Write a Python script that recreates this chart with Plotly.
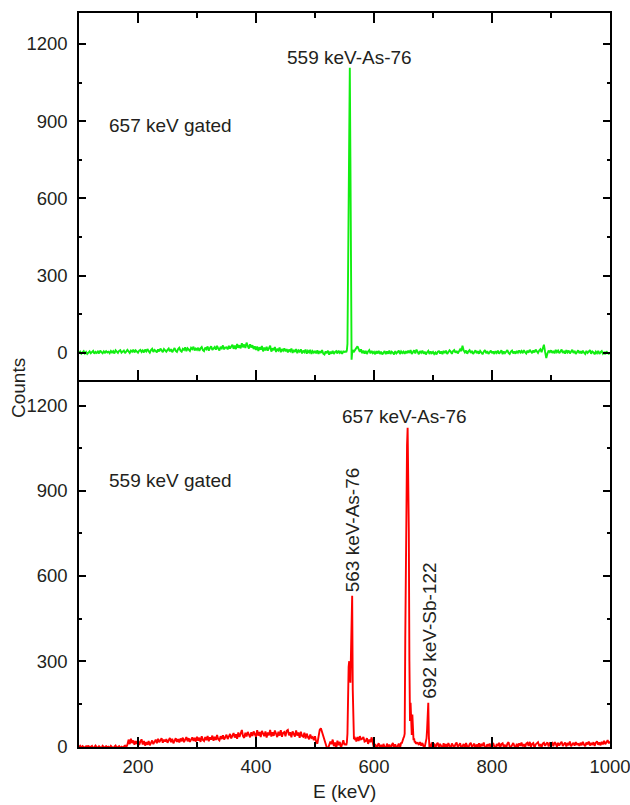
import plotly.graph_objects as go
from plotly.subplots import make_subplots

# Energy grid of the continuum (2 keV bins)
energy_grid = list(range(100, 1001, 2))

# 657 keV gated spectrum: continuum counts, 100 ... 1000 keV
gate657_continuum = [
    0, 5, -3, 3, 7, -2, 4, -4, 2, 6, -1, 3, 8, -3, 4, 0, 6, -2, 9, 3, -1, 6, 1, 7, 2,
    5, -1, 8, 2, 7, -2, 10, 3, 0, 8, 11, 1, 6, 9, -1, 4, 12, 6, 0, 9, 5, 13, 2, 10, 6,
    1, 9, 12, 4, 10, 2, 13, 6, 15, 7, 1, 11, 16, 4, 12, 8, 2, 14, 6, 17, 9, 3, 15, 10, 5,
    12, 17, 6, 15, 3, 13, 19, 8, 4, 15, 20, 9, 5, 16, 12, 22, 7, 18, 13, 8, 20, 15, 24, 10, 17,
    12, 20, 8, 18, 23, 11, 7, 21, 15, 25, 9, 19, 26, 12, 16, 23, 13, 28, 17, 10, 24, 18, 29, 14, 21,
    22, 14, 28, 17, 24, 32, 16, 29, 15, 35, 20, 30, 18, 38, 22, 33, 19, 40, 27, 17, 34, 21, 30, 15, 26,
    12, 25, 8, 22, 13, 27, 6, 21, 10, 24, 9, 19, 28, 5, 18, 11, 23, 4, 16, 10, 21, 3, 15, 9, 18,
    6, 15, 2, 13, 7, 17, 0, 12, 4, 15, -1, 10, 5, 14, -2, 9, 3, 13, -3, 8, 2, 12, -4, 7, 1,
    8, -2, 10, -4, 7, 0, 11, -3, -6, 6, -1, 9, -7, 5, -3, 8, -4, 4, 7, -2, 9, 0, 5, -3, 6,
    4, 5, 6, 6, 5, 4, 5, 6, 8, 12, 18, 26, 15, 4, 14, -1, 9, -3, 8, -4, 6, 11, -2, 8, -1,
    4, -5, 7, -2, 8, -4, 5, -6, 3, 7, -5, 6, -3, 9, -4, 5, 1, -6, 7, -2, 3, 9, -4, 6, 0,
    5, -3, 7, -1, 9, 0, 11, -4, 6, 10, -2, 13, 4, -5, 7, 1, 9, -3, 5, -6, 3, 8, -4, 6, -1,
    4, -4, 2, -6, 5, 7, -2, 6, -5, 8, 0, 9, -4, 3, 10, 5, -3, 7, 11, 1, 8, -2, 6, 14, 7,
    28, 10, 2, 9, -3, 6, 11, 0, 8, -4, 5, 10, -1, 7, -3, 8, 2, -5, 5, 11, -1, 7, -4, 4, 9,
    -1, 6, -4, 7, 0, 9, -3, 4, 10, -5, 6, -1, 7, 11, 0, -4, 5, 9, -2, 6, -3, 8, 1, 10, 2,
    8, -1, 11, 3, -2, 9, 1, 12, 4, -1, 10, 2, 13, 6, 0, 9, 14, 3, 14, 32, 4, -20, -2, 9, 3,
    10, 0, 8, -2, 12, 3, 9, -1, 6, 13, 0, 8, -3, 11, 2, 9, -2, 6, 12, 0, 8, -4, 5, 10, -1,
    7, -2, 9, 1, -4, 8, 0, 5, 11, -3, 6, 2, -5, 5, -1, 8, -4, 3, 7, -3, 2, -5, 6, 0, -3,
    1,
]

# 657 keV gated spectrum: 559 keV photopeak, 1 keV bins
gate657_peak559_energy = list(range(552, 567))
gate657_peak559_counts = [6, 3, 10, 35, 420, 820, 1020, 1107, 760, 240, -26, 2, 12, 8, 5]

# 559 keV gated spectrum: continuum counts, 100 ... 1000 keV
gate559_continuum = [
    -3, 2, -6, 1, -2, -7, 2, -4, 3, -5, -1, 2, -8, -3, 3, -2, -6, 1, -4, -7, 2, -2, -5, 1, -3,
    -1, -6, 2, -3, -7, -1, 3, -5, -3, 1, -6, -1, -4, 1, 3, -3, 6, 24, 8, 27, 12, 21, 6, 19, 9,
    22, 5, 17, 25, 7, 19, 3, 15, 6, 19, 4, 14, 21, 8, 16, 24, 11, 27, 15, 25, 29, 13, 24, 17, 26,
    13, 25, 30, 15, 27, 11, 23, 29, 16, 26, 14, 28, 18, 31, 15, 26, 33, 18, 29, 16, 27, 32, 19, 30, 17,
    34, 20, 31, 16, 36, 23, 19, 33, 22, 37, 18, 32, 24, 38, 20, 34, 23, 40, 25, 21, 36, 26, 39, 24, 35,
    41, 26, 38, 44, 28, 40, 47, 31, 43, 27, 49, 33, 45, 58, 36, 30, 48, 35, 51, 39, 32, 50, 37, 53, 40,
    34, 57, 38, 51, 33, 55, 41, 36, 53, 31, 49, 39, 58, 35, 50, 37, 56, 41, 33, 52, 38, 57, 34, 48, 51,
    36, 55, 58, 39, 50, 32, 53, 41, 35, 56, 38, 49, 30, 52, 37, 34, 48, 28, 45, 33, 25, 42, 30, 33, 22,
    36, 15, 10, 42, 58, 64, 50, 38, 18, 6, -4, -8, 6, 17, 8, 24, 1, 14, -6, 20, 4, 16, -5, 11, 22,
    5, 12, 8, 14, 10, 18, 22, 16, 24, 20, 26, 33, 19, 36, 25, 27, 33, 17, 19, 29, 9, 24, 15, 32, 11,
    -6, 9, -8, 4, 11, -7, 6, -9, 9, -2, -8, 10, -5, 7, -10, 5, 12, -6, 8, -8, 3, 10, -7, 6, 12,
    15, 18, 20, 22, 18, 25, 20, 16, 22, 14, 18, 12, 13, 5, 15, 3, 12, 0, -2, 5, 9, -1, 7, 2, 14,
    0, 10, -6, 7, 13, -4, 9, 1, -8, 11, -1, 8, -5, 12, 2, -7, 10, 0, -4, 8, 14, -3, 7, 11, -6,
    5, 9, -7, 12, 0, -5, 8, 13, -3, 6, 10, -8, 7, -1, 11, -4, 9, 1, 14, -2, -6, 8, 0, 10, -5,
    7, 12, -1, -7, 9, 1, 13, -4, 8, 11, -2, 6, -6, 10, 15, 0, -3, 8, 12, 1, -5, 9, -1, 11, 2,
    14, 0, 8, -4, 10, 13, 2, 16, -1, 9, 12, -5, 7, 11, 15, 1, 8, -3, 10, 13, 2, 9, 14, 0, 11,
    8, 12, 1, 15, 10, -1, 13, 3, 11, 16, 2, 9, 14, 0, 12, 4, 17, 1, 10, 13, 3, 15, 5, 11, 2,
    13, 4, 16, 6, 1, 14, 7, 17, 3, 12, 5, 15, 2, 13, 18, 6, 14, 4, 16, 7, 20, 8, 17, 22, 11,
    17,
]

# 559 keV gated spectrum: photopeaks, 1 keV bins
gate559_peak563_energy = list(range(552, 571))
gate559_peak563_counts = [10, 4, 14, 45, 270, 280, 300, 240, 224, 330, 500, 530, 200, 38, 25, 34, 22, 30, 17]
gate559_peak657_energy = list(range(645, 673))
gate559_peak657_counts = [8, 14, 10, 20, 26, 30, 34, 45, 380, 760, 960, 1060, 1122, 1010, 760,
                          300, 90, 154, 70, 40, 112, 35, 22, 28, 14, 18, 9, 12]
gate559_peak692_energy = list(range(686, 698))
gate559_peak692_counts = [-2, 8, 20, 28, 60, 150, 154, 35, -6, 4, 9, -3]

assert len(gate657_continuum) == len(energy_grid)
assert len(gate559_continuum) == len(energy_grid)


def assemble(continuum, peaks):
    """Merge the continuum with finer-binned photopeak windows."""
    windows = [(es[0], es[-1]) for es, _ in peaks]
    pts = [(e, c) for e, c in zip(energy_grid, continuum)
           if not any(lo <= e <= hi for lo, hi in windows)]
    for es, cs in peaks:
        pts.extend(zip(es, cs))
    pts.sort()
    return [p[0] for p in pts], [p[1] for p in pts]


x_top, y_top = assemble(gate657_continuum, [(gate657_peak559_energy, gate657_peak559_counts)])
x_bot, y_bot = assemble(gate559_continuum, [
    (gate559_peak563_energy, gate559_peak563_counts),
    (gate559_peak657_energy, gate559_peak657_counts),
    (gate559_peak692_energy, gate559_peak692_counts),
])

FONT = "Liberation Sans, Arial, Helvetica, sans-serif"
TEXT = "#231f20"
TICK_SIZE = 18.5
LABEL_SIZE = 19

fig = make_subplots(rows=2, cols=1, shared_xaxes=True, vertical_spacing=0)

fig.add_trace(go.Scatter(x=x_top, y=y_top, mode="lines",
                         line=dict(color="#11ee11", width=1.9), showlegend=False),
              row=1, col=1)
fig.add_trace(go.Scatter(x=x_bot, y=y_bot, mode="lines",
                         line=dict(color="#ff0000", width=1.9), showlegend=False),
              row=2, col=1)

x_common = dict(
    range=[100, 1000], showline=True, linecolor="black", linewidth=1.5,
    ticks="inside", tick0=0, dtick=200, ticklen=10, tickwidth=1.5, tickcolor="black",
    minor=dict(dtick=100, ticks="inside", ticklen=5, tickwidth=1.5, tickcolor="black"),
    showgrid=False, zeroline=False, automargin=False,
    tickfont=dict(family=FONT, size=TICK_SIZE, color=TEXT),
)
# upper panel: ticks on both the top frame and the shared middle line
fig.update_xaxes(**x_common, mirror="allticks", showticklabels=False, row=1, col=1)
# lower panel: its top edge is the upper panel's axis line
fig.update_xaxes(**x_common, mirror=False, showticklabels=True, ticklabelstandoff=2,
                 ticklabeloverflow="allow", row=2, col=1)

y_common = dict(
    showline=True, linecolor="black", linewidth=1.5, mirror="allticks",
    ticks="inside", tick0=0, dtick=300, ticklen=7, tickwidth=1.5, tickcolor="black",
    minor=dict(dtick=150, ticks="inside", ticklen=3.5, tickwidth=1.5, tickcolor="black"),
    showgrid=False, zeroline=False, ticklabelstandoff=6, automargin=False,
    tickfont=dict(family=FONT, size=TICK_SIZE, color=TEXT),
)
fig.update_yaxes(**y_common, range=[-105, 1320], row=1, col=1)
fig.update_yaxes(**y_common, range=[-2, 1290], row=2, col=1)

fig.update_layout(
    width=630, height=805,
    margin=dict(l=79, r=20, t=13, b=58, autoexpand=False),
    paper_bgcolor="white", plot_bgcolor="white",
    font=dict(family=FONT, size=LABEL_SIZE, color=TEXT),
)
fig.layout.yaxis.domain = [0.5, 1.0]
fig.layout.yaxis2.domain = [0.0, 0.5]

label_font = dict(family=FONT, size=LABEL_SIZE, color=TEXT)
annotations = [
    dict(x=558, y=1146, xref="x", yref="y", text="559 keV-As-76",
         xanchor="center", yanchor="middle"),
    dict(x=147.5, y=885, xref="x", yref="y", text="657 keV gated",
         xanchor="left", yanchor="middle"),
    dict(x=147.5, y=935, xref="x2", yref="y2", text="559 keV gated",
         xanchor="left", yanchor="middle"),
    dict(x=651, y=1163, xref="x2", yref="y2", text="657 keV-As-76",
         xanchor="center", yanchor="middle"),
    dict(x=565, y=762, xref="x2", yref="y2", text="563 keV-As-76", textangle=-90,
         xanchor="center", yanchor="middle"),
    dict(x=694, y=409, xref="x2", yref="y2", text="692 keV-Sb-122", textangle=-90,
         xanchor="center", yanchor="middle"),
    dict(x=-0.115, y=0.489, xref="paper", yref="paper", text="Counts", textangle=-90,
         xanchor="center", yanchor="middle"),
    dict(x=0.5, y=-0.06, xref="paper", yref="paper", text="E (keV)",
         xanchor="center", yanchor="middle"),
]
for a in annotations:
    fig.add_annotation(showarrow=False, font=label_font, **a)

fig.write_html("out.html")
